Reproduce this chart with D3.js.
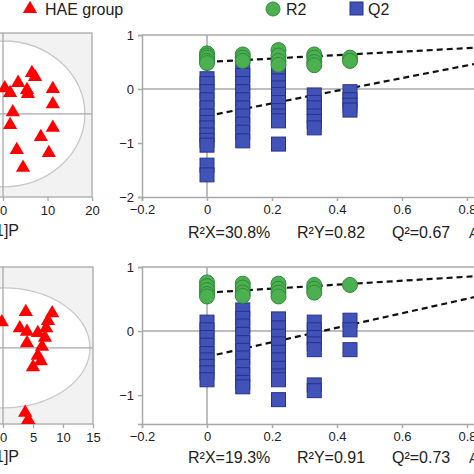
<!DOCTYPE html>
<html><head><meta charset="utf-8">
<script src="https://cdn.jsdelivr.net/npm/d3@7"></script>
<style>body{margin:0;background:#fff;} svg{display:block;font-family:Arial,"Liberation Sans",sans-serif;}</style>
</head><body><svg id="c" width="474" height="474"></svg>
<script>
// ---------- data ----------
const legendLabels = ["HAE group", "R2", "Q2"];
const scoreXLabel = "t[1]P";
// score plot (top): [t1, t2]
const scoreTop = [[6.5,9.2],[7.2,8.3],[3.4,7.0],[5.4,5.4],[5.6,4.5],[0.4,5.8],[1.6,4.7],[11.2,5.6],[11.2,2.2],[2.2,0.4],[1.6,-2.5],[11.2,-3.1],[8.5,-5.2],[3.1,-8.1],[10.3,-8.8],[4.5,-12.1]];
const scoreTopXTicks = [0, 10, 20];
const scoreTopEllipse = [18.4, 16.4];
// score plot (bottom)
const scoreBottom = [[3.8,6.0],[8.2,5.8],[-0.2,4.3],[2.8,3.3],[4.0,2.7],[7.5,4.5],[7.2,3.3],[5.8,2.5],[7.0,1.7],[4.0,0.8],[6.5,0.2],[5.8,-1.3],[6.3,-2.2],[5.0,-3.2],[3.7,-10.8],[4.2,-12.0]];
const scoreBottomXTicks = [0, 5, 10, 15];
const scoreBottomEllipse = [14.5, 10];
// permutation plots
const permX = [0, 0.11, 0.22, 0.33, 0.44];
const topR2 = [[0.66,0.62,0.58,0.52,0.48],[0.64,0.58,0.52],[0.72,0.62,0.52,0.45],[0.64,0.58,0.5,0.44],[0.58,0.52]];
const topQ2 = [[0.19,0.1,-0.05,-0.2,-0.35,-0.5,-0.62,-0.72,-0.85,-0.95,-1.04,-1.41,-1.59],
               [0.37,0.25,0.1,-0.05,-0.2,-0.35,-0.5,-0.65,-0.8,-0.96],
               [0.28,0.15,0.02,-0.1,-0.25,-0.4,-0.5,-0.59,-1.02],
               [-0.11,-0.25,-0.35,-0.5,-0.6,-0.72],
               [-0.05,-0.2,-0.3,-0.39]];
const bottomR2 = [[0.76,0.7,0.64,0.58,0.54],[0.74,0.68,0.6,0.55],[0.74,0.66,0.6,0.54],[0.72,0.66,0.6],[0.72]];
const bottomQ2 = [[0.14,0.02,-0.1,-0.22,-0.35,-0.45,-0.55,-0.65,-0.76],
                  [0.33,0.2,0.08,-0.05,-0.18,-0.3,-0.42,-0.55,-0.68,-0.8,-0.87],
                  [0.19,0.05,-0.08,-0.2,-0.33,-0.45,-0.58,-0.7,-0.76,-1.07],
                  [0.14,0.02,-0.1,-0.2,-0.29,-0.84,-0.93],
                  [0.17,0.02,-0.29]];
const topLineR2 = [0.5, 0.82];     // value at x=0 and x=1
const topLineQ2 = [-0.5, 0.67];
const bottomLineR2 = [0.6, 0.91];
const bottomLineQ2 = [-0.4, 0.73];
const permXTicks = [-0.2, 0, 0.2, 0.4, 0.6, 0.8, 1];
const topYTicks = [-2, -1, 0, 1];
const bottomYTicks = [-1, 0, 1];
const topStats = ["R²X=30.8%", "R²Y=0.82", "Q²=0.67"];
const bottomStats = ["R²X=19.3%", "R²Y=0.91", "Q²=0.73"];

// ---------- drawing ----------
const svg = d3.select("#c");
const GRID = "#a8a8a8", TXT = "#222";
const RED = "#ff0000", GREEN = "#4caf50", GREEN_S = "#2e8b3a", BLUE = "#4152b8", BLUE_S = "#27328a";
const tri = d3.symbol(d3.symbolTriangle, 88);

// legend
const lg = svg.append("g");
lg.append("path").attr("d", tri()).attr("transform", "translate(30,9)").attr("fill", RED);
lg.append("text").attr("x", 45).attr("y", 15).attr("font-size", 16).attr("fill", TXT).text(legendLabels[0]);
lg.append("circle").attr("cx", 273).attr("cy", 9).attr("r", 7).attr("fill", GREEN).attr("stroke", GREEN_S);
lg.append("text").attr("x", 286).attr("y", 15).attr("font-size", 16).attr("fill", TXT).text(legendLabels[1]);
lg.append("rect").attr("x", 350).attr("y", 2).attr("width", 13).attr("height", 13).attr("fill", BLUE).attr("stroke", BLUE_S);
lg.append("text").attr("x", 368).attr("y", 15).attr("font-size", 16).attr("fill", TXT).text(legendLabels[2]);

function scorePanel(data, xDom, xRange, yDom, yRange, ell, ticks, labelY) {
  const x = d3.scaleLinear().domain(xDom).range(xRange);
  const y = d3.scaleLinear().domain(yDom).range(yRange);
  const g = svg.append("g");
  g.append("rect").attr("x", -40).attr("y", yRange[1]).attr("width", xRange[1] + 40).attr("height", yRange[0] - yRange[1])
    .attr("fill", "#f2f2f2").attr("stroke", GRID).attr("stroke-width", 1.3);
  g.append("ellipse").attr("cx", x(0)).attr("cy", y(0)).attr("rx", x(ell[0]) - x(0)).attr("ry", y(0) - y(ell[1]))
    .attr("fill", "#fff").attr("stroke", "#c8c8c8").attr("stroke-width", 1.3);
  g.append("line").attr("x1", x(0)).attr("x2", x(0)).attr("y1", yRange[1]).attr("y2", yRange[0]).attr("stroke", GRID).attr("stroke-width", 1.3);
  g.append("line").attr("x1", -40).attr("x2", xRange[1]).attr("y1", y(0)).attr("y2", y(0)).attr("stroke", GRID).attr("stroke-width", 1.3);
  const ax = g.append("g").attr("transform", `translate(0,${yRange[0]})`)
    .call(d3.axisBottom(x).tickValues(ticks).tickSize(4).tickPadding(5).tickFormat(d3.format("d")));
  ax.select(".domain").remove();
  ax.selectAll("line").attr("stroke", GRID).attr("stroke-width", 1.3);
  ax.selectAll("text").attr("font-size", 13).attr("fill", TXT).attr("font-family", "Arial, Liberation Sans, sans-serif");
  g.selectAll("path.pt").data(data).join("path").attr("class", "pt").attr("d", tri())
    .attr("transform", d => `translate(${x(d[0])},${y(d[1])})`).attr("fill", RED);
  g.append("text").attr("x", 19).attr("y", labelY).attr("text-anchor", "end").attr("font-size", 16).attr("fill", TXT).text(scoreXLabel);
}

scorePanel(scoreTop, [0, 20], [3, 92], [-18.7, 18.2], [197, 33], scoreTopEllipse, scoreTopXTicks, 236);
scorePanel(scoreBottom, [0, 15], [3, 93], [-12.7, 13.5], [424, 267], scoreBottomEllipse, scoreBottomXTicks, 462);

function permPanel(R2, Q2, lineR2, lineQ2, yDom, yRange, yTicks, stats, statsY) {
  const x = d3.scaleLinear().domain([-0.2, 1.0]).range([142, 532]);
  const y = d3.scaleLinear().domain(yDom).range(yRange);
  const g = svg.append("g");
  // frame / reference lines
  g.append("line").attr("x1", x(-0.2)).attr("x2", 480).attr("y1", y(yDom[1])).attr("y2", y(yDom[1])).attr("stroke", GRID).attr("stroke-width", 1.5);
  g.append("line").attr("x1", x(-0.2)).attr("x2", 480).attr("y1", y(0)).attr("y2", y(0)).attr("stroke", GRID).attr("stroke-width", 1.5);
  g.append("line").attr("x1", x(0)).attr("x2", x(0)).attr("y1", yRange[1]).attr("y2", yRange[0]).attr("stroke", GRID).attr("stroke-width", 1.5);
  const ay = g.append("g").attr("transform", `translate(${x(-0.2)},0)`)
    .call(d3.axisLeft(y).tickValues(yTicks).tickSize(4).tickPadding(4).tickFormat(d3.format("d")));
  const ax = g.append("g").attr("transform", `translate(0,${yRange[0]})`)
    .call(d3.axisBottom(x).tickValues(permXTicks).tickSize(4).tickPadding(4).tickFormat(d => d === 0 ? "0" : d3.format(".1f")(d)));
  [ay, ax].forEach(a => {
    a.select(".domain").attr("stroke", GRID).attr("stroke-width", 1.5);
    a.selectAll("line").attr("stroke", GRID).attr("stroke-width", 1.5);
    a.selectAll("text").attr("font-size", 13).attr("fill", TXT).attr("font-family", "Arial, Liberation Sans, sans-serif");
  });
  // regression lines
  [lineR2, lineQ2].forEach(l => {
    g.append("line").attr("x1", x(0)).attr("y1", y(l[0])).attr("x2", x(1)).attr("y2", y(l[1]))
      .attr("stroke", "#111").attr("stroke-width", 2.2).attr("stroke-dasharray", "6,4");
  });
  // Q2 squares
  Q2.forEach((col, i) => {
    g.selectAll(null).data(col).join("rect")
      .attr("x", x(permX[i]) - 7).attr("y", d => y(d) - 7).attr("width", 14).attr("height", 14)
      .attr("fill", BLUE).attr("stroke", BLUE_S).attr("stroke-width", 1);
  });
  // R2 circles
  R2.forEach((col, i) => {
    g.selectAll(null).data(col).join("circle")
      .attr("cx", x(permX[i])).attr("cy", d => y(d)).attr("r", 7.5)
      .attr("fill", GREEN).attr("stroke", GREEN_S).attr("stroke-width", 1);
  });
  const sx = [188, 297, 392];
  stats.forEach((s, i) => g.append("text").attr("x", sx[i]).attr("y", statsY).attr("font-size", 16).attr("fill", TXT).text(s));
  g.append("text").attr("x", 469).attr("y", statsY).attr("font-size", 14).attr("fill", "#333").text("A");
}

permPanel(topR2, topQ2, topLineR2, topLineQ2, [-2, 1], [197, 35], topYTicks, topStats, 238);
permPanel(bottomR2, bottomQ2, bottomLineR2, bottomLineQ2, [-1.45, 1], [424, 267], bottomYTicks, bottomStats, 463);
</script></body></html>
